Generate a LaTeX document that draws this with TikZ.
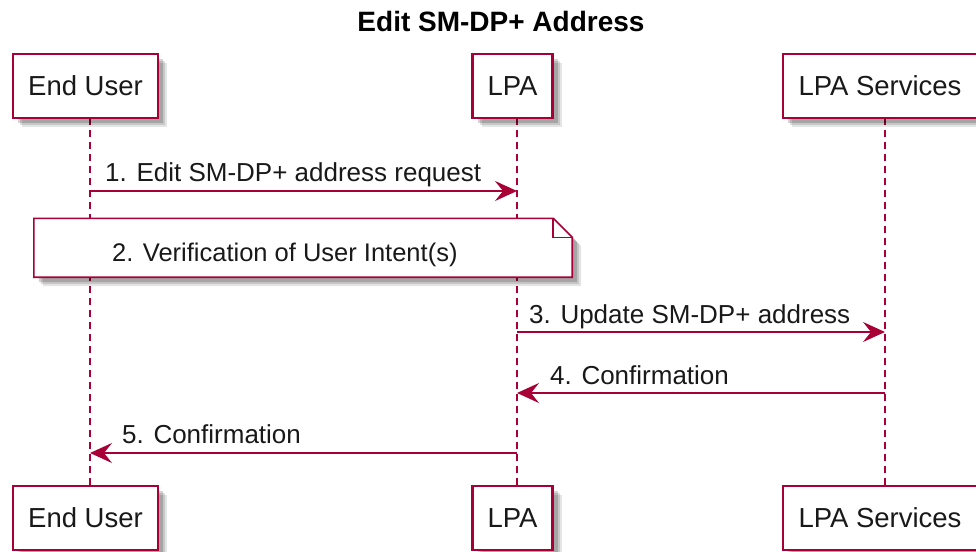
\documentclass[tikz,border=0pt]{standalone}
\usepackage{fontspec}
\setmainfont{Liberation Sans}
\usetikzlibrary{arrows.meta,calc}
\definecolor{pu}{HTML}{A80036}
\begin{document}
\begin{tikzpicture}[x=1pt,y=-1pt,
  shd/.style={
    preaction={fill=black,fill opacity=0.10,transform canvas={shift={(9pt,-9pt)}}},
    preaction={fill=black,fill opacity=0.13,transform canvas={shift={(7pt,-7pt)}}},
    preaction={fill=black,fill opacity=0.17,transform canvas={shift={(5pt,-5pt)}}}},
  part/.style={draw=pu, line width=2.5pt, fill=white, minimum height=64pt,
    inner sep=0pt, font=\fontsize{27.5}{30}\selectfont, text=black!90, shd},
  life/.style={draw=pu, line width=1.6pt, dash pattern=on 7pt off 5pt},
  msg/.style={draw=pu, line width=1.6pt, -{Stealth[length=22pt,width=20pt,inset=8pt]}},
  lbl/.style={anchor=base west, inner sep=0pt, font=\fontsize{26}{28}\selectfont, text=black!90},
  notebox/.style={draw=none, minimum width=538pt, minimum height=58.5pt, inner sep=0pt},
  noteline/.style={draw=pu, line width=1.6pt, fill=white, line join=miter}
]
\useasboundingbox (0,0) rectangle (976,551);
\clip (0,0) rectangle (976,551);
\fill[white] (0,0) rectangle (976,551);

% title
\node[anchor=base, inner sep=0pt, font=\bfseries\fontsize{28}{30}\selectfont] (title) at (501,32) {Edit SM-DP+ Address};

% lifeline coordinates
\coordinate (euTop) at (90,118);   \coordinate (euBot) at (90,486);
\coordinate (lpaTop) at (517,118); \coordinate (lpaBot) at (517,486);
\coordinate (lsTop) at (885,118);  \coordinate (lsBot) at (885,486);

% lifelines
\draw[life] (euTop) -- (euBot);
\draw[life] (lpaTop) -- (lpaBot);
\draw[life] (lsTop) -- (lsBot);

% participants
\node[part, minimum width=145pt] (euT) at (85.5,86) {End User};
\node[part, minimum width=80pt] (lpaT) at (512.6,86) {LPA};
\node[part, minimum width=204pt] (lsT) at (885,86) {\hspace*{-10pt}LPA Services};
\node[part, minimum width=145pt] (euB) at (85.5,518) {End User};
\node[part, minimum width=80pt] (lpaB) at (512.6,518) {LPA};
\node[part, minimum width=204pt] (lsB) at (885,518) {\hspace*{-10pt}LPA Services};

% message 1
\coordinate (m1s) at (90,191); \coordinate (m1e) at (517,191);
\draw[msg] (m1s) -- (m1e);
\node[lbl] (l1) at (105,181) {1. Edit SM-DP+ address request};

% note 2
\node[notebox] (note) at (303,247.75) {};
\fill[black, fill opacity=0.10] ($(note.north west)+(9,9)$) -- ($(note.north east)+(-10,9)$) -- ($(note.north east)+(9,28)$) -- ($(note.south east)+(9,9)$) -- ($(note.south west)+(9,9)$) -- cycle;
\fill[black, fill opacity=0.13] ($(note.north west)+(7,7)$) -- ($(note.north east)+(-12,7)$) -- ($(note.north east)+(7,26)$) -- ($(note.south east)+(7,7)$) -- ($(note.south west)+(7,7)$) -- cycle;
\fill[black, fill opacity=0.17] ($(note.north west)+(5,5)$) -- ($(note.north east)+(-14,5)$) -- ($(note.north east)+(5,24)$) -- ($(note.south east)+(5,5)$) -- ($(note.south west)+(5,5)$) -- cycle;
\path[noteline] (note.north west) -- ($(note.north east)+(-19,0)$) -- ($(note.north east)+(0,19)$) -- (note.south east) -- (note.south west) -- cycle;
\draw[draw=pu, line width=1.6pt, line join=miter] ($(note.north east)+(-19,0)$) -- ($(note.north east)+(-19,19)$) -- ($(note.north east)+(0,19)$);
\node[lbl, font=\fontsize{25.5}{27}\selectfont] (l2) at (112,261) {2. Verification of User Intent(s)};

% message 3
\coordinate (m3s) at (517,332); \coordinate (m3e) at (885,332);
\draw[msg] (m3s) -- (m3e);
\node[lbl] (l3) at (529,323) {3. Update SM-DP+ address};

% message 4
\coordinate (m4s) at (885,393); \coordinate (m4e) at (517,393);
\draw[msg] (m4s) -- (m4e);
\node[lbl] (l4) at (550,384) {4. Confirmation};

% message 5
\coordinate (m5s) at (517,453); \coordinate (m5e) at (90,453);
\draw[msg] (m5s) -- (m5e);
\node[lbl] (l5) at (122,443) {5. Confirmation};
\end{tikzpicture}
\end{document}
